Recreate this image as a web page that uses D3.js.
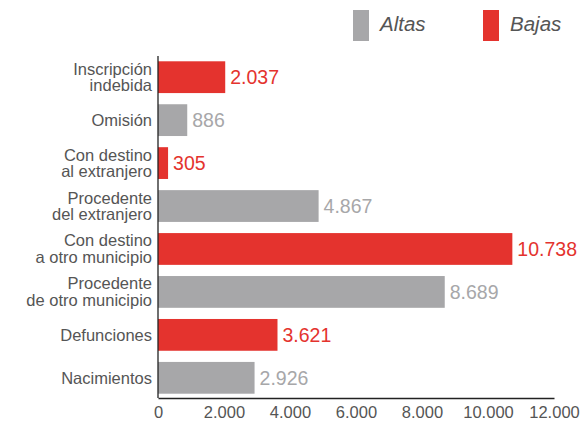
<!DOCTYPE html>
<html>
<head>
<meta charset="utf-8">
<script src="https://cdn.jsdelivr.net/npm/d3@7"></script>
<style>
  body { margin: 0; background: #fff; }
  text { font-family: "Liberation Sans", Arial, sans-serif; }
</style>
</head>
<body>
<div id="chart"></div>
<script>
const categories = [
  ["Inscripción", "indebida"],
  ["Omisión"],
  ["Con destino", "al extranjero"],
  ["Procedente", "del extranjero"],
  ["Con destino", "a otro municipio"],
  ["Procedente", "de otro municipio"],
  ["Defunciones"],
  ["Nacimientos"]
];
const values = [2037, 886, 305, 4867, 10738, 8689, 3621, 2926];
const series = ["Bajas", "Altas", "Bajas", "Altas", "Bajas", "Altas", "Bajas", "Altas"];
const seriesNames = ["Altas", "Bajas"];
const tickValues = [0, 2000, 4000, 6000, 8000, 10000, 12000];

const width = 584, height = 421;
const margin = {top: 57, right: 30, bottom: 23, left: 158};
const colors = {Altas: "#a7a7a9", Bajas: "#e4332e"};
const fmt = v => d3.format(",")(v).replace(/,/g, ".");

const svg = d3.select("#chart").append("svg")
  .attr("width", width).attr("height", height);

const x = d3.scaleLinear().domain([0, 12000]).range([margin.left, width - margin.right]);
const y = d3.scaleBand().domain(d3.range(values.length))
  .range([margin.top, height - margin.bottom]).paddingInner(0.26).paddingOuter(0.1);

const g = svg.append("g");

g.selectAll("rect.bar").data(values).enter().append("rect")
  .attr("class", "bar")
  .attr("x", x(0))
  .attr("y", (d, i) => y(i))
  .attr("width", d => x(d) - x(0))
  .attr("height", y.bandwidth())
  .attr("fill", (d, i) => colors[series[i]]);

g.selectAll("text.val").data(values).enter().append("text")
  .attr("class", "val")
  .attr("x", d => x(d) + 5)
  .attr("y", (d, i) => y(i) + y.bandwidth() / 2)
  .attr("dy", "0.36em")
  .attr("font-size", 19.5)
  .attr("fill", (d, i) => colors[series[i]])
  .text(d => fmt(d));

// category labels
const lab = g.selectAll("text.cat").data(categories).enter().append("text")
  .attr("class", "cat")
  .attr("text-anchor", "end")
  .attr("font-size", 16.5)
  .attr("fill", "#555");
lab.each(function(lines, i) {
  const cy = y(i) + y.bandwidth() / 2;
  const lh = 16.5;
  const start = cy - (lines.length - 1) * lh / 2;
  d3.select(this).selectAll("tspan").data(lines).enter().append("tspan")
    .attr("x", margin.left - 6)
    .attr("y", (d, j) => start + j * lh)
    .attr("dy", "0.35em")
    .text(d => d);
});

// axes
const xAxis = d3.axisBottom(x).tickValues(tickValues).tickSize(0).tickPadding(8).tickFormat(fmt);
const ax = svg.append("g").attr("transform", `translate(0,${height - margin.bottom})`).call(xAxis);
ax.select(".domain").attr("stroke", "#222").attr("stroke-width", 1.3);
ax.selectAll("text").attr("font-size", 16.5).attr("fill", "#555")
  .style("font-family", "'Liberation Sans', Arial, sans-serif");

svg.append("line")
  .attr("x1", x(0)).attr("x2", x(0))
  .attr("y1", 56).attr("y2", height - margin.bottom)
  .attr("stroke", "#222").attr("stroke-width", 1.3);

// legend
const leg = svg.append("g");
const legX = [353, 483];
seriesNames.forEach((s, i) => {
  leg.append("rect").attr("x", legX[i]).attr("y", 10).attr("width", 16).attr("height", 31)
    .attr("fill", colors[s]);
  leg.append("text").attr("x", legX[i] + 27).attr("y", 31)
    .attr("font-size", 20.5).attr("font-style", "italic").attr("fill", "#555").text(s);
});
</script>
</body>
</html>
